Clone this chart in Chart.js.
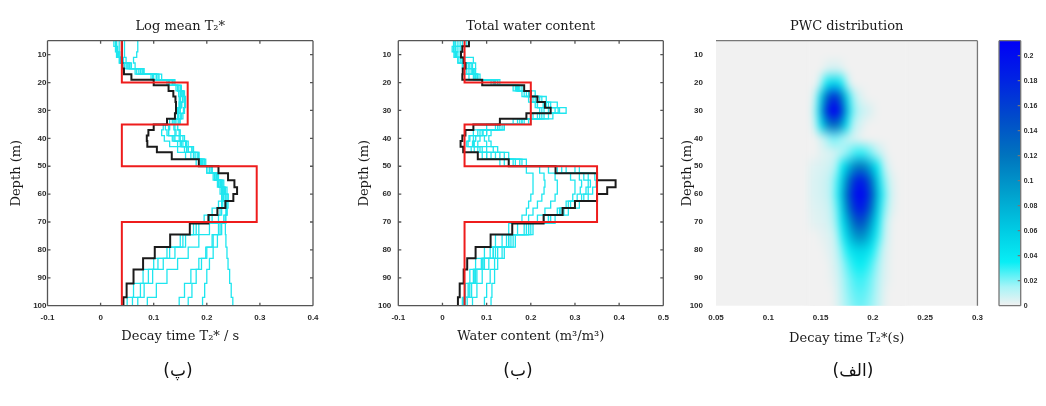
<!DOCTYPE html>
<html>
<head>
<meta charset="utf-8">
<script src="https://cdn.jsdelivr.net/npm/chart.js@4.4.1/dist/chart.umd.min.js"></script>
<style>
  html, body { margin: 0; padding: 0; background: #fff; }
  #fig { position: relative; width: 1046px; height: 406px; overflow: hidden; }
  #fig canvas { position: absolute; top: 0; }
  .tag { position: absolute; top: 360px; font: 17px 'DejaVu Sans', sans-serif; color: #111; transform: translateX(-50%); }
</style>
</head>
<body>
<div id="fig">
  <canvas id="t2Chart" width="330" height="406" style="left:0"></canvas>
  <canvas id="waterChart" width="340" height="406" style="left:340px"></canvas>
  <canvas id="pwcChart" width="320" height="406" style="left:670px"></canvas>
  <canvas id="barChart" width="56" height="406" style="left:990px"></canvas>
  <div class="tag" style="left:178px">(پ)</div>
  <div class="tag" style="left:518px">(ب)</div>
  <div class="tag" style="left:853px">(الف)</div>
</div>
<script>
// layer tops (m), last entry is the bottom of the profile
const depthTops = [5, 7, 9, 11, 13, 15, 17, 19, 21, 23, 25, 27, 29, 31, 33, 35, 37, 39, 41, 43, 45, 47.5, 50, 52.5, 55, 57.5, 60, 62.5, 65, 67.5, 70.5, 74.5, 79, 83, 87, 92, 97, 100];

// true model
const modelDepths = [5, 20, 35, 50, 70, 100];
const modelT2 = [0.04, 0.164, 0.04, 0.294, 0.04];
const modelWater = [0.05, 0.20, 0.05, 0.35, 0.05];

// log mean T2* (s)
const t2Best = [0.040, 0.040, 0.040, 0.040, 0.041, 0.044, 0.058, 0.100, 0.128, 0.137,
  0.141, 0.142, 0.142, 0.140, 0.125, 0.100, 0.090, 0.087, 0.088, 0.106,
  0.134, 0.185, 0.222, 0.240, 0.252, 0.257, 0.250, 0.235, 0.220, 0.203,
  0.168, 0.131, 0.102, 0.080, 0.062, 0.049, 0.043];
const t2Runs = [
  [0.030, 0.030, 0.032, 0.035, 0.045, 0.065, 0.095, 0.125, 0.145, 0.150,
   0.150, 0.148, 0.145, 0.140, 0.130, 0.118, 0.115, 0.120, 0.130, 0.145,
   0.160, 0.180, 0.200, 0.215, 0.225, 0.230, 0.230, 0.222, 0.210, 0.195,
   0.175, 0.150, 0.125, 0.100, 0.080, 0.062, 0.050],
  [0.025, 0.028, 0.030, 0.036, 0.050, 0.075, 0.105, 0.135, 0.150, 0.155,
   0.155, 0.152, 0.150, 0.147, 0.140, 0.130, 0.128, 0.135, 0.145, 0.158,
   0.170, 0.188, 0.205, 0.220, 0.232, 0.238, 0.240, 0.235, 0.225, 0.210,
   0.185, 0.160, 0.140, 0.118, 0.098, 0.082, 0.070],
  [0.035, 0.035, 0.036, 0.040, 0.052, 0.072, 0.100, 0.128, 0.142, 0.147,
   0.148, 0.148, 0.147, 0.145, 0.142, 0.138, 0.140, 0.148, 0.155, 0.165,
   0.175, 0.190, 0.200, 0.212, 0.220, 0.225, 0.228, 0.230, 0.228, 0.222,
   0.205, 0.185, 0.165, 0.145, 0.125, 0.105, 0.088],
  [0.045, 0.045, 0.045, 0.048, 0.058, 0.080, 0.110, 0.138, 0.152, 0.158,
   0.160, 0.160, 0.158, 0.155, 0.150, 0.145, 0.148, 0.155, 0.162, 0.172,
   0.182, 0.195, 0.205, 0.215, 0.222, 0.228, 0.232, 0.235, 0.236, 0.235,
   0.225, 0.212, 0.198, 0.185, 0.170, 0.158, 0.148],
  [0.070, 0.070, 0.068, 0.062, 0.065, 0.080, 0.105, 0.130, 0.145, 0.150,
   0.150, 0.150, 0.150, 0.150, 0.148, 0.145, 0.150, 0.158, 0.165, 0.175,
   0.185, 0.195, 0.210, 0.222, 0.230, 0.235, 0.240, 0.240, 0.238, 0.232,
   0.222, 0.210, 0.200, 0.190, 0.180, 0.172, 0.165],
  [0.030, 0.032, 0.034, 0.038, 0.048, 0.068, 0.098, 0.128, 0.146, 0.152,
   0.154, 0.152, 0.150, 0.146, 0.138, 0.128, 0.128, 0.138, 0.150, 0.162,
   0.175, 0.190, 0.205, 0.215, 0.225, 0.232, 0.236, 0.238, 0.238, 0.235,
   0.228, 0.220, 0.212, 0.205, 0.200, 0.196, 0.192],
  [0.040, 0.040, 0.040, 0.043, 0.055, 0.078, 0.108, 0.135, 0.150, 0.156,
   0.158, 0.158, 0.156, 0.152, 0.146, 0.140, 0.142, 0.150, 0.160, 0.172,
   0.185, 0.198, 0.210, 0.220, 0.228, 0.233, 0.236, 0.237, 0.237, 0.236,
   0.235, 0.236, 0.238, 0.240, 0.243, 0.246, 0.249],
  [0.028, 0.030, 0.033, 0.040, 0.055, 0.082, 0.115, 0.140, 0.152, 0.155,
   0.155, 0.153, 0.150, 0.145, 0.135, 0.122, 0.125, 0.140, 0.152, 0.165,
   0.178, 0.192, 0.208, 0.218, 0.226, 0.230, 0.232, 0.228, 0.220, 0.205,
   0.180, 0.155, 0.130, 0.108, 0.090, 0.075, 0.060]
];

// total water content (m3/m3)
const waterBest = [0.060, 0.045, 0.042, 0.048, 0.052, 0.046, 0.045, 0.090, 0.185, 0.200,
  0.215, 0.232, 0.245, 0.190, 0.130, 0.070, 0.052, 0.045, 0.041, 0.047,
  0.080, 0.150, 0.256, 0.350, 0.392, 0.373, 0.350, 0.300, 0.272, 0.229,
  0.158, 0.109, 0.075, 0.056, 0.048, 0.039, 0.035];
const waterRuns = [
  [0.030, 0.025, 0.030, 0.040, 0.048, 0.050, 0.060, 0.110, 0.170, 0.195,
   0.205, 0.215, 0.225, 0.200, 0.160, 0.100, 0.070, 0.060, 0.055, 0.065,
   0.090, 0.130, 0.190, 0.205, 0.205, 0.205, 0.200, 0.195, 0.190, 0.180,
   0.150, 0.120, 0.095, 0.075, 0.062, 0.052, 0.045],
  [0.040, 0.030, 0.028, 0.035, 0.055, 0.070, 0.085, 0.130, 0.175, 0.200,
   0.225, 0.245, 0.262, 0.230, 0.185, 0.130, 0.090, 0.075, 0.070, 0.085,
   0.110, 0.150, 0.220, 0.230, 0.232, 0.230, 0.225, 0.215, 0.205, 0.195,
   0.170, 0.135, 0.108, 0.088, 0.072, 0.060, 0.050],
  [0.050, 0.035, 0.032, 0.045, 0.065, 0.075, 0.080, 0.120, 0.165, 0.185,
   0.200, 0.215, 0.230, 0.215, 0.175, 0.120, 0.085, 0.070, 0.068, 0.080,
   0.100, 0.140, 0.240, 0.255, 0.260, 0.260, 0.255, 0.245, 0.232, 0.215,
   0.185, 0.150, 0.125, 0.105, 0.090, 0.078, 0.068],
  [0.025, 0.022, 0.026, 0.035, 0.045, 0.055, 0.075, 0.125, 0.180, 0.210,
   0.235, 0.260, 0.280, 0.250, 0.200, 0.140, 0.100, 0.085, 0.080, 0.100,
   0.130, 0.175, 0.260, 0.290, 0.300, 0.300, 0.295, 0.280, 0.260, 0.230,
   0.190, 0.145, 0.115, 0.092, 0.075, 0.062, 0.052],
  [0.045, 0.040, 0.050, 0.070, 0.075, 0.068, 0.078, 0.115, 0.160, 0.180,
   0.195, 0.210, 0.220, 0.205, 0.170, 0.125, 0.100, 0.095, 0.100, 0.115,
   0.140, 0.180, 0.280, 0.310, 0.315, 0.312, 0.305, 0.285, 0.265, 0.240,
   0.200, 0.160, 0.135, 0.118, 0.108, 0.100, 0.095],
  [0.035, 0.028, 0.030, 0.042, 0.060, 0.065, 0.070, 0.120, 0.170, 0.195,
   0.215, 0.235, 0.255, 0.225, 0.180, 0.125, 0.080, 0.062, 0.058, 0.072,
   0.100, 0.160, 0.300, 0.330, 0.335, 0.330, 0.320, 0.300, 0.275, 0.245,
   0.195, 0.150, 0.115, 0.090, 0.070, 0.058, 0.048],
  [0.028, 0.030, 0.035, 0.050, 0.060, 0.060, 0.072, 0.118, 0.168, 0.190,
   0.210, 0.228, 0.240, 0.220, 0.180, 0.135, 0.110, 0.105, 0.110, 0.125,
   0.150, 0.190, 0.310, 0.345, 0.348, 0.340, 0.330, 0.310, 0.285, 0.255,
   0.205, 0.165, 0.140, 0.125, 0.118, 0.112, 0.110],
  [0.055, 0.045, 0.040, 0.050, 0.068, 0.072, 0.080, 0.125, 0.172, 0.198,
   0.220, 0.240, 0.265, 0.240, 0.195, 0.140, 0.092, 0.075, 0.072, 0.090,
   0.120, 0.165, 0.270, 0.320, 0.330, 0.325, 0.315, 0.290, 0.268, 0.240,
   0.195, 0.155, 0.120, 0.095, 0.078, 0.066, 0.056]
];

// PWC distribution: rows = depth (m), columns = T2* (s)
const pwcDepths = [5, 10, 15, 20, 25, 30, 35, 40, 45, 50, 55, 60, 65, 70, 75, 80, 85, 90, 95, 100];
const pwcT2 = [0.140, 0.145, 0.150, 0.155, 0.160, 0.165, 0.170, 0.175, 0.180, 0.185, 0.190, 0.195, 0.200, 0.205, 0.210, 0.215, 0.220, 0.225, 0.230];
const pwcGrid = [
  [0, 0, 0, 0, 0, 0, 0, 0, 0, 0, 0, 0, 0, 0, 0, 0, 0, 0, 0],
  [0, 0, 0, 0, 0, 0, 0, 0, 0, 0, 0, 0, 0, 0, 0, 0, 0, 0, 0],
  [0, 0, 0, 0.004, 0.006, 0.006, 0.004, 0, 0, 0, 0, 0, 0, 0, 0, 0, 0, 0, 0],
  [0, 0, 0.014, 0.034, 0.05, 0.05, 0.034, 0.014, 0, 0, 0, 0, 0, 0, 0, 0, 0, 0, 0],
  [0, 0.012, 0.055, 0.115, 0.165, 0.165, 0.115, 0.055, 0.018, 0.007, 0.003, 0, 0, 0, 0, 0, 0, 0, 0],
  [0, 0.018, 0.075, 0.155, 0.21, 0.21, 0.155, 0.075, 0.024, 0.012, 0.009, 0.006, 0.003, 0, 0, 0, 0, 0, 0],
  [0, 0.012, 0.045, 0.095, 0.125, 0.125, 0.095, 0.045, 0.014, 0.007, 0.004, 0, 0, 0, 0, 0, 0, 0, 0],
  [0, 0, 0.006, 0.012, 0.02, 0.02, 0.016, 0.01, 0.006, 0.004, 0, 0, 0, 0, 0, 0, 0, 0, 0],
  [0, 0, 0.003, 0.004, 0.005, 0.008, 0.012, 0.018, 0.025, 0.03, 0.03, 0.025, 0.018, 0.01, 0.005, 0, 0, 0, 0],
  [0.003, 0.004, 0.005, 0.006, 0.008, 0.015, 0.035, 0.065, 0.095, 0.115, 0.115, 0.095, 0.065, 0.035, 0.012, 0.004, 0, 0, 0],
  [0.004, 0.005, 0.006, 0.008, 0.012, 0.025, 0.055, 0.105, 0.155, 0.185, 0.185, 0.155, 0.105, 0.055, 0.022, 0.008, 0.003, 0, 0],
  [0.004, 0.005, 0.006, 0.008, 0.012, 0.028, 0.065, 0.125, 0.175, 0.205, 0.205, 0.175, 0.125, 0.065, 0.028, 0.01, 0.004, 0, 0],
  [0.003, 0.004, 0.005, 0.006, 0.01, 0.022, 0.055, 0.105, 0.155, 0.185, 0.185, 0.155, 0.105, 0.055, 0.022, 0.008, 0.003, 0, 0],
  [0.002, 0.003, 0.004, 0.005, 0.008, 0.018, 0.042, 0.075, 0.115, 0.145, 0.145, 0.115, 0.075, 0.042, 0.015, 0.005, 0, 0, 0],
  [0, 0, 0.002, 0.003, 0.005, 0.012, 0.03, 0.055, 0.082, 0.1, 0.1, 0.082, 0.055, 0.03, 0.012, 0.004, 0, 0, 0],
  [0, 0, 0, 0.002, 0.004, 0.009, 0.02, 0.033, 0.045, 0.052, 0.052, 0.045, 0.033, 0.02, 0.007, 0.003, 0, 0, 0],
  [0, 0, 0, 0, 0.003, 0.007, 0.015, 0.024, 0.031, 0.036, 0.036, 0.031, 0.024, 0.015, 0.006, 0.002, 0, 0, 0],
  [0, 0, 0, 0, 0.002, 0.005, 0.012, 0.019, 0.025, 0.029, 0.029, 0.025, 0.019, 0.012, 0.005, 0.002, 0, 0, 0],
  [0, 0, 0, 0, 0, 0.004, 0.01, 0.017, 0.022, 0.025, 0.025, 0.022, 0.017, 0.01, 0.004, 0, 0, 0, 0],
  [0, 0, 0, 0, 0, 0.003, 0.009, 0.015, 0.019, 0.022, 0.022, 0.019, 0.015, 0.009, 0.003, 0, 0, 0, 0]
];

// tick labels
const depthTicks = [10, 20, 30, 40, 50, 60, 70, 80, 90, 100];
const t2Ticks = [-0.1, 0, 0.1, 0.2, 0.3, 0.4];
const waterTicks = [-0.1, 0, 0.1, 0.2, 0.3, 0.4, 0.5];
const pwcTicks = [0.05, 0.1, 0.15, 0.2, 0.25, 0.3];
const colourTicks = [0, 0.02, 0.04, 0.06, 0.08, 0.1, 0.12, 0.14, 0.16, 0.18, 0.2];

// colour map (value -> rgb)
const cmapStops = [0, 0.015, 0.035, 0.06, 0.09, 0.12, 0.15, 0.18, 0.212];
const cmapRgb = [[241, 241, 241], [168, 244, 247], [8, 238, 245], [0, 204, 228], [0, 160, 205], [0, 116, 190], [0, 76, 202], [0, 36, 226], [0, 0, 246]];

Chart.defaults.animation = false;
Chart.defaults.font.family = 'Liberation Sans, Arial, sans-serif';

const plotTop = 40.7, plotBottom = 305.7;
const tickFont = { family: 'Liberation Sans, Arial, sans-serif', size: 8, weight: 'bold' };
const labelFont = { family: 'DejaVu Serif, serif', size: 13, weight: 'normal', lineHeight: 1.2 };
const titleBox = 12 + 13 * 1.2 + 6;

function colourAt(v) {
  if (v <= cmapStops[0]) return cmapRgb[0];
  for (let i = 1; i < cmapStops.length; i++) {
    if (v <= cmapStops[i]) {
      const f = (v - cmapStops[i - 1]) / (cmapStops[i] - cmapStops[i - 1]);
      return cmapRgb[i].map((c, k) => Math.round(cmapRgb[i - 1][k] + (c - cmapRgb[i - 1][k]) * f));
    }
  }
  return cmapRgb[cmapRgb.length - 1];
}

const toSteps = (depths, values) => depths.map((d, i) => ({ x: values[Math.min(i, values.length - 1)], y: d }));
const profile = (data, colour, width, order) => ({
  data, borderColor: colour, borderWidth: width, showLine: true, stepped: 'after',
  pointRadius: 0, fill: false, order
});
const fmt = v => String(+(+v).toFixed(3));

function depthScale(tickPad, width, titleX) {
  return {
    type: 'linear', reverse: true, min: 5, max: 100,
    afterBuildTicks: s => { s.ticks = depthTicks.map(value => ({ value })); },
    afterFit: s => { s.width = width; },
    grid: { display: false, drawTicks: false }, border: { display: false },
    ticks: { padding: tickPad, font: tickFont, color: '#2a2a2a' },
    title: { display: true, text: 'Depth (m)', font: labelFont, color: '#1a1a1a', padding: { top: titleX - 7.8, bottom: 0 } }
  };
}

function valueScale(min, max, ticks, text, titleY) {
  return {
    type: 'linear', min, max,
    afterBuildTicks: s => { s.ticks = ticks.map(value => ({ value })); },
    afterFit: s => { s.height = titleY + 7.8 - plotBottom; },
    grid: { display: false, drawTicks: false }, border: { display: false },
    ticks: { padding: 7, font: tickFont, color: '#2a2a2a', callback: fmt, maxRotation: 0 },
    title: { display: true, text, font: labelFont, color: '#1a1a1a', padding: { top: 0, bottom: 0 } }
  };
}

const boxPlugin = {
  id: 'box',
  afterDatasetsDraw(chart, args, opts) {
    const { ctx, chartArea: a, scales } = chart;
    const sides = opts.sides || ['top', 'right', 'bottom', 'left'];
    ctx.save();
    ctx.strokeStyle = opts.color || '#555';
    ctx.lineWidth = 1.3;
    ctx.beginPath();
    if (sides.includes('top')) { ctx.moveTo(a.left, a.top); ctx.lineTo(a.right, a.top); }
    if (sides.includes('right')) { ctx.moveTo(a.right, a.top); ctx.lineTo(a.right, a.bottom); }
    if (sides.includes('bottom')) { ctx.moveTo(a.left, a.bottom); ctx.lineTo(a.right, a.bottom); }
    if (sides.includes('left')) { ctx.moveTo(a.left, a.top); ctx.lineTo(a.left, a.bottom); }
    if (opts.ticks) {
      const t = 3;
      if (scales.x && scales.x.options.display !== false) {
        scales.x.ticks.forEach(tk => {
          const px = scales.x.getPixelForValue(tk.value);
          ctx.moveTo(px, a.bottom); ctx.lineTo(px, a.bottom - t);
          ctx.moveTo(px, a.top); ctx.lineTo(px, a.top + t);
        });
      }
      scales.y.ticks.forEach(tk => {
        const py = scales.y.getPixelForValue(tk.value);
        if (opts.ticks !== 'right') { ctx.moveTo(a.left, py); ctx.lineTo(a.left + t, py); }
        ctx.moveTo(a.right, py); ctx.lineTo(a.right - t, py);
      });
    }
    ctx.stroke();
    ctx.restore();
  }
};

const heatPlugin = {
  id: 'heat',
  beforeDatasetsDraw(chart) {
    const { ctx, chartArea: a, scales: { x, y } } = chart;
    const off = document.createElement('canvas');
    off.width = pwcT2.length;
    off.height = pwcDepths.length;
    const octx = off.getContext('2d');
    const img = octx.createImageData(off.width, off.height);
    pwcGrid.forEach((row, r) => row.forEach((v, c) => {
      img.data.set([...colourAt(v), 255], (r * off.width + c) * 4);
    }));
    octx.putImageData(img, 0, 0);
    const dx = (pwcT2[1] - pwcT2[0]) / 2, dy = (pwcDepths[1] - pwcDepths[0]) / 2;
    const x0 = x.getPixelForValue(pwcT2[0] - dx), x1 = x.getPixelForValue(pwcT2[pwcT2.length - 1] + dx);
    const y0 = y.getPixelForValue(pwcDepths[0] - dy), y1 = y.getPixelForValue(pwcDepths[pwcDepths.length - 1] + dy);
    ctx.save();
    ctx.fillStyle = `rgb(${colourAt(0).join(',')})`;
    ctx.fillRect(a.left, a.top, a.width, a.height);
    ctx.beginPath();
    ctx.rect(a.left, a.top, a.width, a.height);
    ctx.clip();
    ctx.imageSmoothingEnabled = true;
    ctx.imageSmoothingQuality = 'low';
    ctx.filter = 'blur(3px)';
    ctx.drawImage(off, x0, y0, x1 - x0, y1 - y0);
    ctx.restore();
  }
};

const barPlugin = {
  id: 'bar',
  beforeDatasetsDraw(chart) {
    const { ctx, chartArea: a, scales: { y } } = chart;
    const grad = ctx.createLinearGradient(0, y.getPixelForValue(0), 0, y.getPixelForValue(y.max));
    cmapStops.forEach((v, i) => grad.addColorStop(Math.min(v / y.max, 1), `rgb(${cmapRgb[i].join(',')})`));
    ctx.save();
    ctx.fillStyle = grad;
    ctx.fillRect(a.left, a.top, a.width, a.height);
    ctx.restore();
  }
};

const baseOptions = (padding, titleText) => ({
  responsive: false,
  devicePixelRatio: 1,
  events: [],
  layout: { padding },
  plugins: {
    legend: { display: false },
    tooltip: { enabled: false },
    title: titleText ? {
      display: true, text: titleText, fullSize: false, font: labelFont, color: '#1a1a1a',
      padding: { top: 12, bottom: 6 }
    } : { display: false }
  }
});

function profileChart(id, canvasW, left, right, tickPad, titleX, best, runs, model, xMin, xMax, xTicks, title, xTitle) {
  const opts = baseOptions({ top: plotTop - titleBox, left: 0, right: canvasW - right, bottom: 406 - 337 - 7.8 }, title);
  opts.scales = {
    x: valueScale(xMin, xMax, xTicks, xTitle, 337),
    y: depthScale(tickPad, left, titleX)
  };
  opts.plugins.box = { ticks: true, color: '#555' };
  new Chart(document.getElementById(id), {
    type: 'scatter',
    data: {
      datasets: [
        ...runs.map(v => profile(toSteps(depthTops, v), '#1fe6ef', 1.3, 3)),
        profile(toSteps(depthTops, best), '#1b1b1b', 2, 2),
        profile(toSteps(modelDepths, model), '#ee1c1c', 2, 1)
      ]
    },
    options: opts,
    plugins: [boxPlugin]
  });
}

profileChart('t2Chart', 330, 47.5, 313, 1, 17, t2Best, t2Runs, modelT2, -0.1, 0.4, t2Ticks,
  'Log mean T₂*', 'Decay time T₂* / s');
profileChart('waterChart', 340, 58.3, 323.3, 7, 25, waterBest, waterRuns, modelWater, -0.1, 0.5, waterTicks,
  'Total water content', 'Water content (m³/m³)');

// PWC distribution
const pwcOpts = baseOptions({ top: plotTop - titleBox, left: 0, right: 320 - 312.3, bottom: 406 - 339 - 7.8 }, 'PWC distribution');
pwcOpts.scales = {
  x: valueScale(0.05, 0.3, pwcTicks, 'Decay time T₂*(s)', 339),
  y: depthScale(13, 46, 18)
};
pwcOpts.plugins.box = { sides: ['top', 'right'], color: '#777' };
new Chart(document.getElementById('pwcChart'), {
  type: 'scatter',
  data: { datasets: [] },
  options: pwcOpts,
  plugins: [heatPlugin, boxPlugin]
});

// colour bar
const barOpts = baseOptions({ top: plotTop, left: 9, right: 0, bottom: 406 - plotBottom }, null);
barOpts.scales = {
  x: { type: 'linear', display: false, min: 0, max: 1 },
  y: {
    type: 'linear', position: 'right', min: 0, max: 0.212,
    afterBuildTicks: s => { s.ticks = colourTicks.map(value => ({ value })); },
    afterFit: s => { s.width = 56 - 9 - 21.7; },
    grid: { display: false, drawTicks: false }, border: { display: false },
    ticks: { padding: 3, font: { family: 'Liberation Sans, Arial, sans-serif', size: 7, weight: 'bold' }, color: '#2a2a2a', callback: fmt }
  }
};
barOpts.plugins.box = { ticks: 'right', color: '#777' };
new Chart(document.getElementById('barChart'), {
  type: 'scatter',
  data: { datasets: [] },
  options: barOpts,
  plugins: [barPlugin, boxPlugin]
});
</script>
</body>
</html>
